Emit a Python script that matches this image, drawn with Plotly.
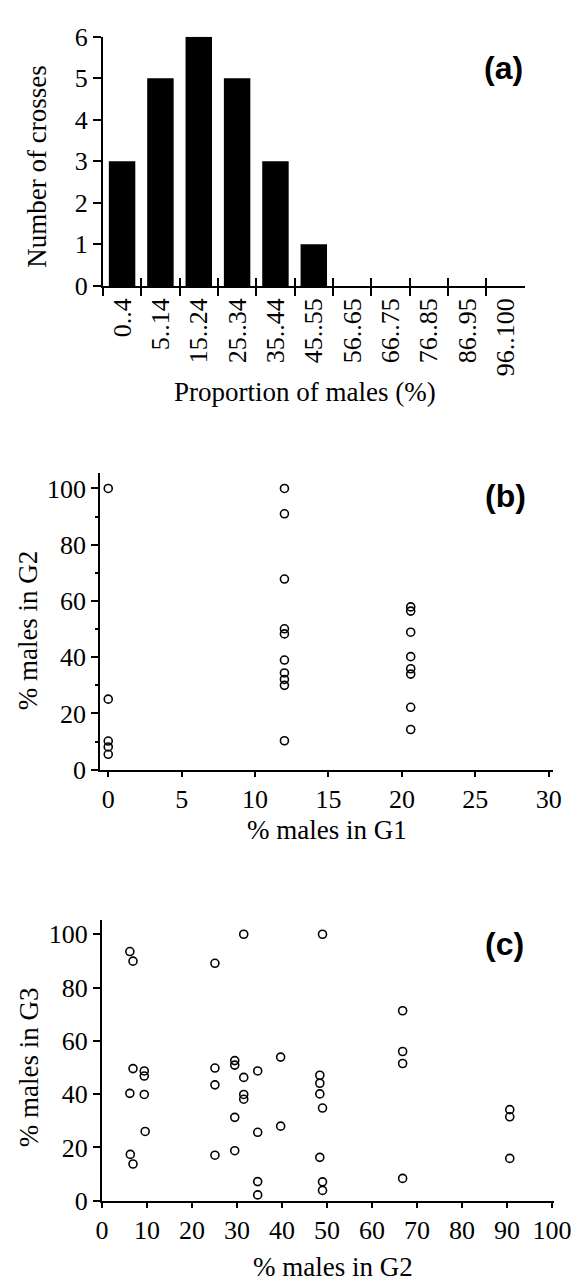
import plotly.graph_objects as go

W, H = 586, 1285

# ---- data ----
bins = ["0..4", "5..14", "15..24", "25..34", "35..44", "45..55",
        "56..65", "66..75", "76..85", "86..95", "96..100"]
crosses = [3, 5, 6, 5, 3, 1, 0, 0, 0, 0, 0]

g1_b = [0, 0, 0, 0, 0,
        12.0, 12.0, 12.0, 12.0, 12.0, 12.0, 12.0, 12.0, 12.0, 12.0,
        20.6, 20.6, 20.6, 20.6, 20.6, 20.6, 20.6, 20.6]
g2_b = [100, 25.1, 10.2, 8.1, 5.5,
        100, 91.0, 67.8, 50.1, 48.3, 39.0, 34.4, 32.1, 30.0, 10.3,
        57.9, 56.4, 48.9, 40.2, 35.9, 34.0, 22.2, 14.3]

g2_c = [6.2, 6.9, 6.9, 9.4, 9.4, 6.2, 9.4, 9.6, 6.3, 6.9,
        25.1, 25.1, 25.1, 25.1,
        31.5, 29.5, 29.5, 31.5, 31.5, 31.5, 29.5, 29.5,
        34.6, 34.6, 34.6, 34.6, 39.7, 39.7,
        49.0, 48.4, 48.4, 48.4, 49.0, 48.4, 49.0, 49.0,
        66.8, 66.8, 66.8, 66.8,
        90.6, 90.6, 90.6]
g3_c = [93.5, 89.9, 49.6, 48.7, 46.8, 40.3, 39.9, 26.0, 17.4, 13.8,
        89.1, 49.8, 43.5, 17.1,
        100, 52.6, 50.9, 46.3, 39.9, 38.1, 31.3, 18.8,
        48.7, 25.7, 7.2, 2.2, 53.9, 28.0,
        100, 47.1, 44.1, 40.1, 34.8, 16.3, 7.1, 3.9,
        71.3, 56.0, 51.5, 8.4,
        34.2, 31.5, 15.9]

SERIF = "Liberation Serif"
TICKF = dict(family=SERIF, size=26, color="black")
TITLEF = dict(family=SERIF, size=27, color="black")
LABF = dict(family="Liberation Sans", size=32, color="black")


def px_x(x):
    return x / W


def px_y(y):
    return 1 - y / H


fig = go.Figure()

fig.add_trace(go.Bar(x=bins, y=crosses, marker=dict(color="black", line=dict(width=0)),
                     xaxis="x", yaxis="y", hoverinfo="skip"))
# same bars on an overlaying axis, used only to draw the inner half of the crossing ticks
fig.add_trace(go.Bar(x=bins, y=crosses, marker=dict(color="black", opacity=0, line=dict(width=0)),
                     xaxis="x4", yaxis="y", hoverinfo="skip"))

marker = dict(symbol="circle-open", size=8, color="black", line=dict(width=1.6, color="black"))
fig.add_trace(go.Scatter(x=g1_b, y=g2_b, mode="markers", marker=marker,
                         xaxis="x2", yaxis="y2"))
fig.add_trace(go.Scatter(x=g2_c, y=g3_c, mode="markers", marker=marker,
                         xaxis="x3", yaxis="y3"))

axis_common = dict(showline=True, linecolor="black", linewidth=2, showgrid=False,
                   zeroline=False, ticks="outside", tickcolor="black", tickwidth=2,
                   tickfont=TICKF)

dom_a = [px_x(92.7), px_x(532.5)]

fig.update_layout(
    width=W, height=H,
    margin=dict(l=0, r=0, t=0, b=0),
    paper_bgcolor="white", plot_bgcolor="white",
    showlegend=False,
    bargap=0.31,
    xaxis=dict(**axis_common, domain=dom_a, anchor="y",
               type="category", tickson="boundaries", ticklen=8, tickangle=-90,
               range=[-0.5, 10.5]),
    xaxis4=dict(showline=False, showgrid=False, zeroline=False, domain=dom_a,
                anchor="y", overlaying="x", side="bottom",
                type="category", tickson="boundaries", ticks="inside", ticklen=8,
                tickwidth=2, tickcolor="black", showticklabels=False,
                range=[-0.5, 10.5]),
    yaxis=dict(**axis_common, domain=[px_y(270), px_y(15)], anchor="x",
               range=[0, 6], dtick=1, ticklen=8),
    xaxis2=dict(**axis_common, domain=[px_x(90), px_x(562)], anchor="y2",
                range=[-0.54, 30.29], tickvals=[0, 5, 10, 15, 20, 25, 30], ticklen=5),
    yaxis2=dict(**axis_common, domain=[px_y(765), px_y(461.7)], anchor="x2",
                range=[0, 105.4], tickvals=[0, 20, 40, 60, 80, 100], ticklen=7,
                minor=dict(tickvals=[10, 30, 50, 70, 90], ticks="outside", ticklen=3,
                           tickwidth=2, tickcolor="black")),
    xaxis3=dict(**axis_common, domain=[px_x(91.7), px_x(562.7)], anchor="y3",
                range=[0, 100.35], dtick=10, ticklen=5),
    yaxis3=dict(**axis_common, domain=[px_y(1206), px_y(918.3)], anchor="x3",
                range=[0, 105.5], dtick=20, ticklen=7),
)

annotations = [
    # axis titles
    dict(text="Number of crosses", x=px_x(24), y=px_y(148), textangle=-90, font=TITLEF),
    dict(text="Proportion of males (%)", x=px_x(303), y=px_y(379), font=TITLEF),
    dict(text="% males in G2", x=px_x(15), y=px_y(622), textangle=-90, font=TITLEF),
    dict(text="% males in G1", x=px_x(326), y=px_y(827), font=TITLEF),
    dict(text="% males in G3", x=px_x(16), y=px_y(1069), textangle=-90, font=TITLEF),
    dict(text="% males in G2", x=px_x(333), y=px_y(1274), font=TITLEF),
    # panel labels
    dict(text="<b>(a)</b>", x=px_x(510), y=px_y(47.5), font=LABF),
    dict(text="<b>(b)</b>", x=px_x(512), y=px_y(485), font=LABF),
    dict(text="<b>(c)</b>", x=px_x(511), y=px_y(943), font=LABF),
]
for a in annotations:
    a.update(xref="paper", yref="paper", xanchor="center", yanchor="middle",
             showarrow=False)
fig.update_layout(annotations=annotations)

fig.write_html("out.html")
